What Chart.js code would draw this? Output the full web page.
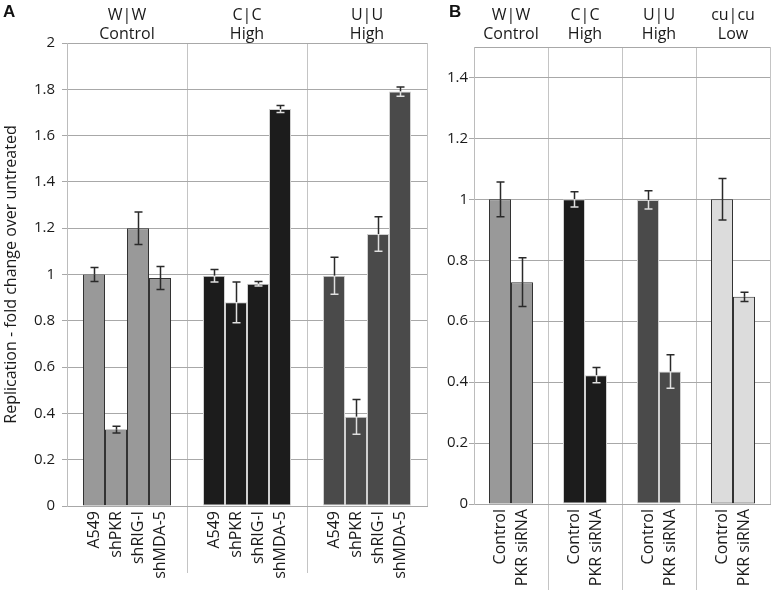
<!DOCTYPE html>
<html>
<head>
<meta charset="utf-8">
<script src="https://cdn.jsdelivr.net/npm/chart.js@4/dist/chart.umd.min.js"></script>
<style>
  body { margin: 0; background: #fff; }
  .panel { position: absolute; top: 0; }
  .tag { position: absolute; top: 2px; font: bold 17px "Liberation Sans", Arial, sans-serif; color: #111; }
</style>
</head>
<body>
<div class="panel" style="left:0"><canvas id="chartA" width="440" height="596"></canvas></div>
<div class="panel" style="left:440px"><canvas id="chartB" width="337" height="596"></canvas></div>
<div class="tag" style="left:3px">A</div>
<div class="tag" style="left:449px">B</div>
<script>
// Panel A data
const groupsA = [['W|W', 'Control'], ['C|C', 'High'], ['U|U', 'High']];
const cellsA = ['A549', 'shPKR', 'shRIG-I', 'shMDA-5'];
const wwA = [1.00, 0.33, 1.20, 0.985];
const ccA = [0.995, 0.88, 0.96, 1.715];
const uuA = [0.995, 0.385, 1.175, 1.79];
const wwErrA = [0.03, 0.015, 0.07, 0.05];
const ccErrA = [0.027, 0.088, 0.01, 0.015];
const uuErrA = [0.08, 0.075, 0.075, 0.02];

// Panel B data
const groupsB = [['W|W', 'Control'], ['C|C', 'High'], ['U|U', 'High'], ['cu|cu', 'Low']];
const cellsB = ['Control', 'PKR siRNA'];
const wwB = [1.00, 0.728];
const ccB = [1.00, 0.423];
const uuB = [0.998, 0.435];
const cuB = [1.00, 0.68];
const wwErrB = [0.057, 0.08];
const ccErrB = [0.025, 0.025];
const uuErrB = [0.03, 0.055];
const cuErrB = [0.068, 0.015];

const FONT = '"Open Sans", sans-serif';
const TEXT = '#1a1a1a';

// group styles: fill, border, error bar colour inside the bar
const styleWW = { fill: '#999999', border: '#333333', inner: '#2a2a2a' };
const styleCC = { fill: '#1c1c1c', border: '#d0d0d0', inner: '#e0e0e0' };
const styleUU = { fill: '#4a4a4a', border: '#d0d0d0', inner: '#e0e0e0' };
const styleCU = { fill: '#dcdcdc', border: '#333333', inner: '#2a2a2a' };

function buildDatasets(cells, groupValues, groupErrors, styles) {
    return cells.map((name, i) => ({
        label: name,
        data: groupValues.map(g => g[i]),
        errors: groupErrors.map(g => g[i]),
        backgroundColor: styles.map(s => s.fill),
        borderColor: styles.map(s => s.border),
        innerColor: styles.map(s => s.inner),
        borderWidth: 1,
        borderSkipped: false
    }));
}

// error bars, dark above the bar top, group colour inside the bar
const errorBars = {
    id: 'errorBars',
    afterDatasetsDraw(chart) {
        const ctx = chart.ctx;
        const y = chart.scales.y;
        ctx.save();
        ctx.lineWidth = 1.5;
        chart.data.datasets.forEach((ds, i) => {
            chart.getDatasetMeta(i).data.forEach((bar, j) => {
                const v = ds.data[j], e = ds.errors[j];
                const top = y.getPixelForValue(v + e);
                const bot = y.getPixelForValue(v - e);
                const mid = bar.y;
                const x = Math.round(bar.x) + 0.5;
                ctx.strokeStyle = '#2a2a2a';
                ctx.beginPath();
                ctx.moveTo(x, top); ctx.lineTo(x, mid);
                ctx.moveTo(x - 4, top); ctx.lineTo(x + 4, top);
                ctx.stroke();
                ctx.strokeStyle = ds.innerColor[j];
                ctx.beginPath();
                ctx.moveTo(x, mid); ctx.lineTo(x, bot);
                ctx.moveTo(x - 4, bot); ctx.lineTo(x + 4, bot);
                ctx.stroke();
            });
        });
        ctx.restore();
    }
};

// rotated bar names under each bar
const barNames = {
    id: 'barNames',
    afterDraw(chart) {
        const ctx = chart.ctx;
        ctx.save();
        ctx.font = '16px ' + FONT;
        ctx.fillStyle = TEXT;
        ctx.textAlign = 'right';
        ctx.textBaseline = 'middle';
        chart.data.datasets.forEach((ds, i) => {
            chart.getDatasetMeta(i).data.forEach(bar => {
                ctx.save();
                ctx.translate(bar.x, chart.chartArea.bottom + 5);
                ctx.rotate(-Math.PI / 2);
                ctx.fillText(ds.label, 0, 0);
                ctx.restore();
            });
        });
        ctx.restore();
    }
};

function makeChart(id, groups, datasets, opts) {
    return new Chart(id, {
        type: 'bar',
        data: { labels: groups, datasets: datasets },
        plugins: [errorBars, barNames],
        options: {
            responsive: false,
            animation: false,
            events: [],
            layout: { padding: { left: 0, right: opts.right, top: 0, bottom: 0 } },
            datasets: { bar: { categoryPercentage: opts.catPct, barPercentage: 1.0 } },
            plugins: { legend: { display: false }, tooltip: { enabled: false } },
            scales: {
                x: {
                    position: 'bottom',
                    offset: true,
                    grid: {
                        offset: true,
                        color: '#c4c4c4',
                        tickLength: opts.tickDown,
                        tickColor: c => (c.index === undefined || c.index === 0) ? 'rgba(0,0,0,0)' : '#c4c4c4'
                    },
                    border: { color: '#a8a8a8' },
                    ticks: { display: false },
                    afterFit: s => { s.height = 596 - opts.bottom; }
                },
                xTop: {
                    type: 'category',
                    position: 'top',
                    offset: true,
                    grid: { display: false, drawTicks: false },
                    border: { display: false },
                    ticks: {
                        font: { family: FONT, size: 16, lineHeight: 1.2 },
                        color: TEXT,
                        padding: opts.headPad,
                        maxRotation: 0,
                        autoSkip: false
                    },
                    afterFit: s => { s.height = opts.top; }
                },
                y: {
                    min: 0,
                    max: opts.max,
                    ticks: {
                        stepSize: 0.2,
                        font: { family: FONT, size: 15 },
                        color: TEXT,
                        padding: opts.tickPad,
                        callback: v => (Math.abs(v - opts.max) < 1e-9 && opts.hideMax) ? '' : String(+v.toFixed(1))
                    },
                    grid: {
                        color: '#a8a8a8',
                        tickLength: 5,
                        tickColor: c => (opts.hideMax && c.tick && Math.abs(c.tick.value - opts.max) < 1e-9) ? 'rgba(0,0,0,0)' : '#a8a8a8'
                    },
                    border: { color: '#bcbcbc' },
                    title: {
                        display: !!opts.title,
                        text: opts.title || '',
                        font: { family: FONT, size: 16 },
                        color: TEXT,
                        padding: { top: 2, bottom: 0 }
                    },
                    afterFit: s => { s.width = opts.left; }
                }
            }
        }
    });
}

makeChart('chartA', groupsA,
    buildDatasets(cellsA, [wwA, ccA, uuA], [wwErrA, ccErrA, uuErrA], [styleWW, styleCC, styleUU]),
    { left: 67, right: 13, top: 43, bottom: 506, max: 2, catPct: 88 / 120, tickDown: 67, tickPad: 7,
      headPad: -1, title: 'Replication - fold change over untreated', hideMax: false });

makeChart('chartB', groupsB,
    buildDatasets(cellsB, [wwB, ccB, uuB, cuB], [wwErrB, ccErrB, uuErrB, cuErrB], [styleWW, styleCC, styleUU, styleCU]),
    { left: 34, right: 7, top: 47, bottom: 504, max: 1.5, catPct: 44 / 74, tickDown: 86, tickPad: 1,
      headPad: 3, title: null, hideMax: true });
</script>
</body>
</html>
